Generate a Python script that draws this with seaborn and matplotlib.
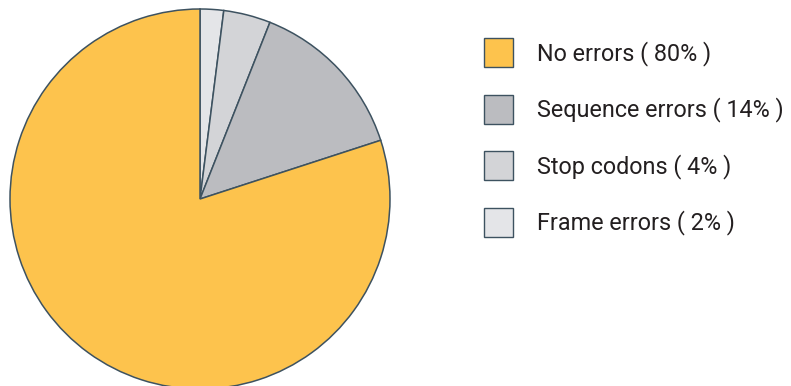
import matplotlib
matplotlib.use("Agg")
import matplotlib.pyplot as plt
import seaborn as sns
from matplotlib.patches import Patch

categories = ["Frame errors", "Stop codons", "Sequence errors", "No errors"]
values = [2, 4, 14, 80]
colors = ["#E4E5E8", "#D3D4D7", "#BBBCC0", "#FDC34D"]
legend_order = ["No errors", "Sequence errors", "Stop codons", "Frame errors"]

sns.set_theme(style="white")
plt.rcParams["font.family"] = ["Roboto", "DejaVu Sans"]

W, H = 791, 386
fig = plt.figure(figsize=(W / 100, H / 100), dpi=100)
ax = fig.add_axes([10 / W, -3 / H, 380 / W, 380 / H])
edge = "#3D5260"
ax.pie(values, colors=colors, startangle=90, counterclock=False,
       wedgeprops=dict(edgecolor=edge, linewidth=1.1), radius=1.0)
ax.set_xlim(-1, 1)
ax.set_ylim(-1, 1)
ax.set_aspect("equal")
ax.axis("off")

lookup = dict(zip(categories, zip(values, colors)))
handles = [Patch(facecolor=lookup[c][1], edgecolor=edge, linewidth=1.0) for c in legend_order]
labels = [f"{c} ( {lookup[c][0]}% )" for c in legend_order]
fs = 16.8
fpx = fs * 100 / 72
box = 29
fig.legend(handles, labels, loc="upper left",
           bbox_to_anchor=(484 / W, 1 - 38 / H), frameon=False,
           prop=dict(size=fs), handlelength=box / fpx,
           handleheight=(box / fpx - 0.245) / 0.65,
           handletextpad=24 / fpx, labelspacing=27.5 / fpx,
           borderpad=0, borderaxespad=0, labelcolor="#231F20")
fig.savefig("out.png", dpi=100)
